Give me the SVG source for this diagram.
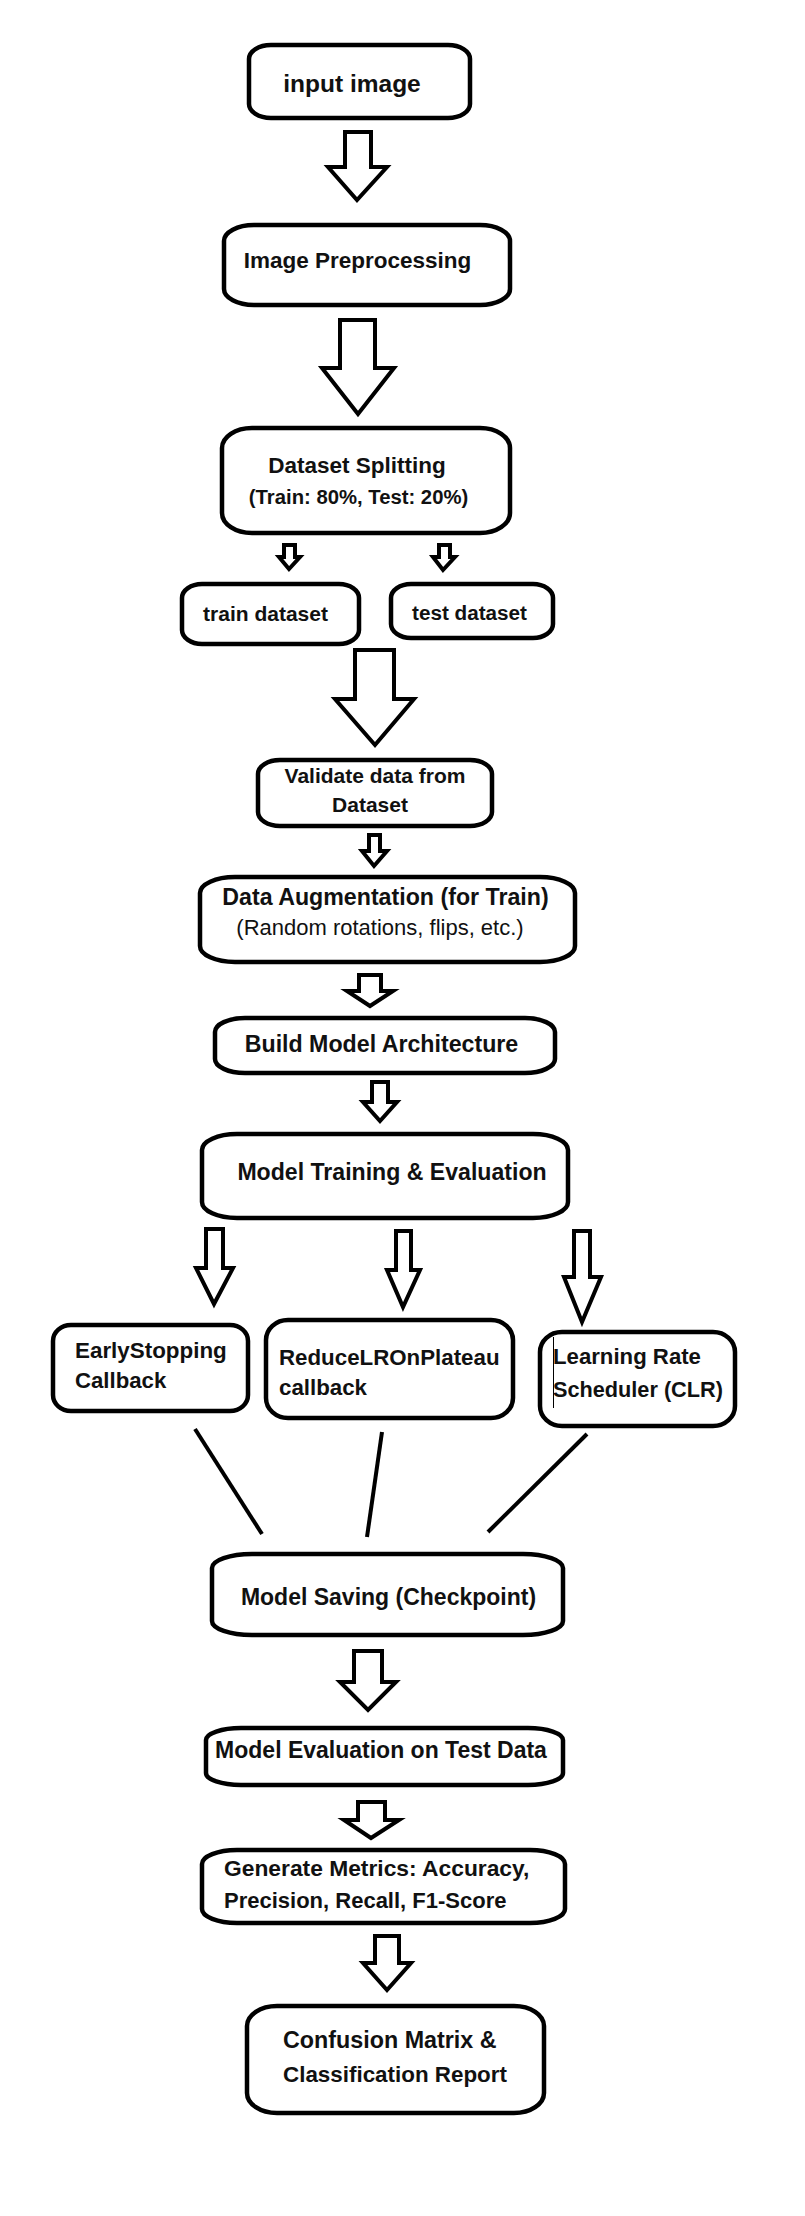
<svg xmlns="http://www.w3.org/2000/svg" width="805" height="2216" viewBox="0 0 805 2216">
<style>
.box{fill:#fff;stroke:#000;stroke-width:4.5}
.arr{fill:#fff;stroke:#000;stroke-width:4;stroke-linejoin:miter}
.ln{stroke:#000;stroke-width:4;fill:none}
text{font-family:"Liberation Sans",Arial,sans-serif;font-weight:bold;font-size:22.5px;fill:#111}
.c{text-anchor:middle}
.reg{font-weight:normal;font-size:22px}
</style>
<rect width="805" height="2216" fill="#fff"/>
<g id="connectors">
<polygon class="arr" points="345,132 371,132 371,167 387,167 357,200 328,167 345,167"/>
<polygon class="arr" points="340,320 375,320 375,368 394,368 358,414 322,368 340,368"/>
<polygon class="arr" points="284,545 295,545 295,557 300,557 289,569 279,557 284,557"/>
<polygon class="arr" points="439,545 450,545 450,557 455,557 443,570 433,557 439,557"/>
<polygon class="arr" points="355,650 394,650 394,699 414,699 375,745 335,699 355,699"/>
<polygon class="arr" points="369,835 380,835 380,851 387,851 374,866 362,851 369,851"/>
<polygon class="arr" points="359,975 381,975 381,991 393,991 370,1006 347,991 359,991"/>
<polygon class="arr" points="372,1082 388,1082 388,1102 397,1102 380,1121 363,1102 372,1102"/>
<polygon class="arr" points="206,1229 223,1229 223,1268 233,1268 214,1304 196,1268 206,1268"/>
<polygon class="arr" points="396,1231 411,1231 411,1270 420,1270 403,1307 387,1270 396,1270"/>
<polygon class="arr" points="574,1231 590,1231 590,1277 601,1277 582,1322 564,1277 574,1277"/>
<polygon class="arr" points="354,1651 382,1651 382,1682 396,1682 368,1710 340,1682 354,1682"/>
<polygon class="arr" points="358,1802 385,1802 385,1820 399,1820 371,1838 344,1820 358,1820"/>
<polygon class="arr" points="375,1936 399,1936 399,1963 411,1963 387,1990 363,1963 375,1963"/>
<line class="ln" x1="195" y1="1429" x2="262" y2="1534"/>
<line class="ln" x1="382" y1="1432" x2="367" y2="1537"/>
<line class="ln" x1="587" y1="1434" x2="488" y2="1532"/>
</g>
<g id="n1"><rect class="box" x="249" y="45" width="221" height="73" rx="22" ry="14"/><text class="c" x="352" y="92" style="font-size:24.5px">input image</text></g>
<g id="n2"><rect class="box" x="224" y="225" width="286" height="80" rx="30" ry="16"/><text class="c" x="357.5" y="268">Image Preprocessing</text></g>
<g id="n3"><rect class="box" x="222" y="428" width="288" height="105" rx="30" ry="20"/><text class="c" x="357" y="473">Dataset Splitting</text><text class="c" x="358.5" y="504" style="font-size:20.3px">(Train: 80%, Test: 20%)</text></g>
<g id="n4"><rect class="box" x="182" y="584" width="177" height="60" rx="20" ry="14"/><text class="c" x="265.5" y="621" style="font-size:21px">train dataset</text></g>
<g id="n5"><rect class="box" x="391" y="584" width="162" height="54" rx="20" ry="14"/><text class="c" x="469.5" y="620" style="font-size:20.7px">test dataset</text></g>
<g id="n6"><rect class="box" x="258" y="760" width="234" height="66" rx="22" ry="14"/><text class="c" x="375" y="783" style="font-size:21px">Validate data from</text><text class="c" x="370" y="812" style="font-size:21px">Dataset</text></g>
<g id="n7"><rect class="box" x="200" y="877" width="375" height="85" rx="35" ry="16"/><text class="c" x="385.5" y="905" style="font-size:23.2px">Data Augmentation (for Train)</text><text class="c reg" x="380" y="935">(Random rotations, flips, etc.)</text></g>
<g id="n8"><rect class="box" x="215" y="1018" width="340" height="55" rx="30" ry="14"/><text class="c" x="381.5" y="1052" style="font-size:23.2px">Build Model Architecture</text></g>
<g id="n9"><rect class="box" x="202" y="1134" width="366" height="84" rx="35" ry="16"/><text class="c" x="392" y="1180" style="font-size:23.1px">Model Training &amp; Evaluation</text></g>
<g id="n10"><rect class="box" x="53" y="1325" width="195" height="86" rx="18" ry="16"/><text x="75" y="1358" style="font-size:22.4px">EarlyStopping</text><text x="75" y="1388" style="font-size:22.2px">Callback</text></g>
<g id="n11"><rect class="box" x="266" y="1320" width="247" height="98" rx="22" ry="20"/><text x="279" y="1365" style="font-size:22.3px">ReduceLROnPlateau</text><text x="279" y="1395" style="font-size:22.3px">callback</text></g>
<g id="n12"><rect class="box" x="540" y="1332" width="195" height="94" rx="22" ry="20"/><line x1="553.5" y1="1337" x2="553.5" y2="1408" stroke="#000" stroke-width="1"/><text x="553" y="1364" style="font-size:22.2px">Learning Rate</text><text x="553" y="1397" style="font-size:21.7px">Scheduler (CLR)</text></g>
<g id="n13"><rect class="box" x="212" y="1554" width="351" height="81" rx="40" ry="14"/><text class="c" x="388.5" y="1605" style="font-size:23px">Model Saving (Checkpoint)</text></g>
<g id="n14"><rect class="box" x="206" y="1728" width="357" height="57" rx="35" ry="12"/><text class="c" x="381" y="1758" style="font-size:23px">Model Evaluation on Test Data</text></g>
<g id="n15"><rect class="box" x="202" y="1850" width="363" height="73" rx="35" ry="14"/><text x="224" y="1876" style="font-size:22.8px">Generate Metrics: Accuracy,</text><text x="224" y="1908" style="font-size:22px">Precision, Recall, F1-Score</text></g>
<g id="n16"><rect class="box" x="247" y="2006" width="297" height="107" rx="30" ry="20"/><text x="283" y="2048" style="font-size:23.3px">Confusion Matrix &amp;</text><text x="283" y="2082" style="font-size:22.4px">Classification Report</text></g>
</svg>
